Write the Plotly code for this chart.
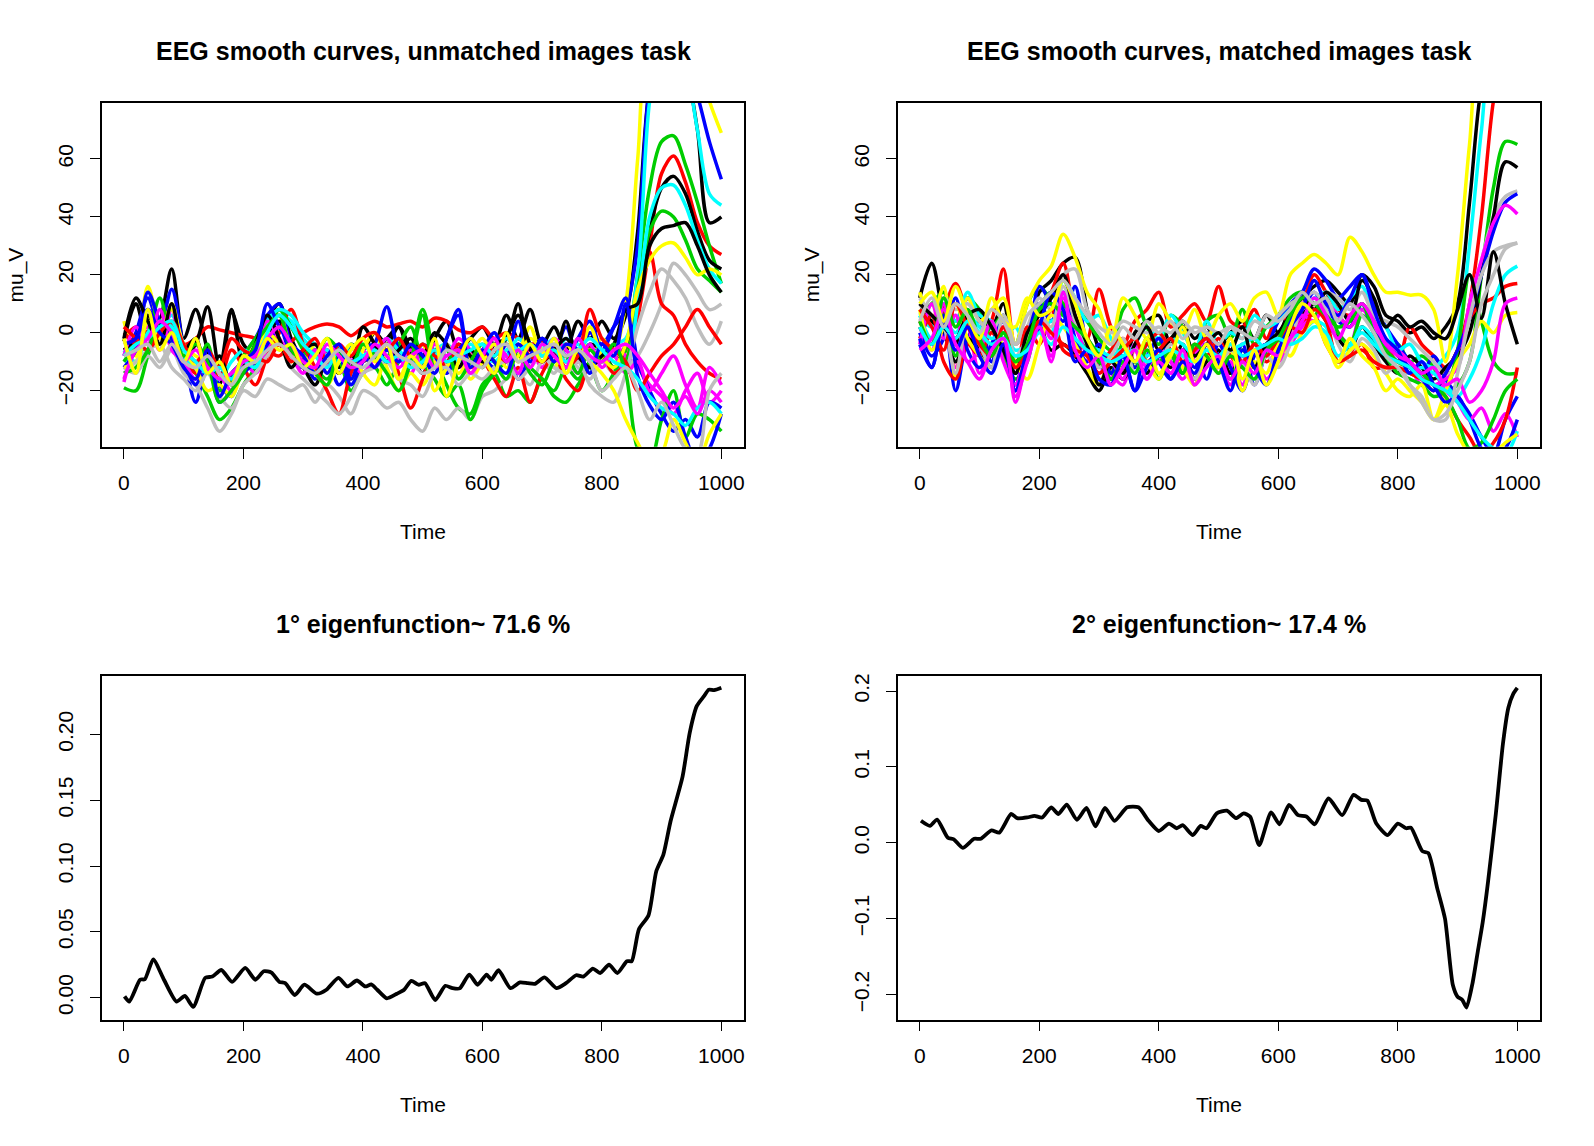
import plotly.graph_objects as go

# ---------------- data ----------------
time_grid = [0, 20, 40, 60, 80, 100, 120, 140, 160, 180, 200, 220, 240, 260, 280,
             300, 320, 340, 360, 380, 400, 420, 440, 460, 480, 500, 520, 540, 560, 580,
             600, 620, 640, 660, 680, 700, 720, 740, 760, 780, 800, 820, 840, 860, 880,
             900, 920, 940, 960, 980, 1000]

curve_colors = ["black", "red", "#00CD00", "blue", "cyan", "magenta", "yellow", "#BEBEBE"]

# unmatched images task (top-left)
unmatched_01 = [-3, 10, -2, 4, 22, -2, 8, -6, -18, 7, -4, -8, 4, 10, -2, -10, -14, -6, -12, -4, -6, 0, -4, 2, -8, -10, -2, 4, -6, -2, 2, -4, 6, -2, 8, -4, 2, -6, 4, -2, 4, -2, 6, 35, 85, 100, 100, 92, 70, 38, 40]
unmatched_02 = [-2, 2, 0, -2, 3, -4, -2, 2, 1, 0, -1, -2, -6, -8, -3, 0, 2, 3, 2, -1, 2, 4, 2, 3, 4, 2, 5, 4, 1, 0, 2, -2, 0, -2, -4, -3, -5, -4, -6, -5, -6, -8, -10, 5, 30, 55, 61, 52, 38, 30, 27]
unmatched_03 = [-19, -20, -8, 2, -4, -10, -14, -22, -30, -26, -18, -12, -2, 8, 2, -6, -12, -16, -10, -20, -14, -12, -18, -10, -6, 8, -8, -18, -26, -28, -18, -14, -22, -20, -24, -16, -22, -24, -18, -12, -20, -14, -6, 20, 50, 66, 68, 58, 45, 30, 17]
unmatched_04 = [-8, 0, 12, 2, 15, -6, -24, -12, -18, -22, -8, -2, 6, 10, -4, -8, -16, -10, -18, -12, -6, -4, -10, -2, -8, -4, -12, -2, 8, -10, -6, 0, -8, 4, -10, -2, -6, 2, -8, 0, -4, 2, 8, 30, 85, 100, 100, 95, 82, 66, 53]
unmatched_05 = [-10, -6, 4, 2, 6, -4, -10, -8, -14, -18, -12, -8, 2, 6, 4, -2, -6, -8, -10, -6, -4, -8, -6, -4, -8, -10, -6, -4, -8, -10, -6, -4, -8, -2, -6, -4, -8, -2, -6, -4, -6, -4, -2, 20, 80, 100, 100, 92, 70, 48, 44]
unmatched_06 = [-17, -4, 2, -6, 8, -8, -4, -12, -20, -16, -10, -14, -6, 2, -4, -8, -12, -6, -14, -10, -6, -12, -2, -8, -14, -6, -10, -4, -12, -8, -6, -14, -4, -10, -6, -12, -4, -8, -14, -6, -10, -4, -8, -12, -18, -22, -28, -20, -14, -24, -20]
unmatched_07 = [4, -8, 16, 4, 8, -4, -8, -10, -22, -14, -10, -4, 2, 6, -6, -12, -4, -14, -8, -16, -6, 0, -12, -20, -14, -18, -10, -4, -14, -8, -2, -8, -4, -6, 2, -8, -4, -10, -2, -6, -2, -6, 10, 60, 100, 100, 100, 100, 95, 80, 69]
unmatched_08 = [-12, -14, -8, -12, -6, -14, -18, -26, -34, -28, -20, -22, -16, -18, -20, -18, -24, -18, -22, -28, -20, -22, -26, -24, -30, -34, -26, -30, -26, -30, -22, -20, -16, -14, -18, -10, -14, -8, -12, -16, -10, -14, -12, -8, 0, 10, 24, 20, 14, 8, 10]
unmatched_09 = [-6, -2, 6, -4, 0, -8, -4, 9, -12, 8, -10, -6, 0, 4, -8, -12, -18, -10, -14, -8, -10, -6, -2, 2, -6, -14, -6, -10, -4, -8, -12, -4, -2, 10, -6, -2, -8, 4, -10, -4, -6, -12, -4, 10, 35, 50, 54, 48, 35, 25, 22]
unmatched_10 = [0, -4, -6, 2, -2, -8, -14, -10, -16, -6, -12, -18, -8, 0, 8, -4, -12, -20, -28, -14, -8, -12, -4, -14, -26, -16, -6, -12, -4, -14, -10, -16, -22, -12, -24, -14, -8, -16, -20, -10, -8, -14, -10, 10, 28, 10, 6, -4, -10, -14, -16]
unmatched_11 = [-10, -4, 0, 12, -2, -6, -12, -4, -20, -16, -8, -2, 4, 8, 2, -4, -8, -2, -6, -12, -10, -6, -8, -4, 2, -10, -16, -22, -18, -30, -20, -14, -10, -8, -12, -16, -20, -12, -16, -10, -8, -12, -10, 15, 35, 42, 40, 32, 22, 18, 14]
unmatched_12 = [-12, -6, 14, 4, -2, -10, -18, -8, -24, -20, -14, -10, -4, 2, -8, -12, -6, -14, -8, -18, -10, -4, 9, -6, -10, -4, -8, -14, -6, -2, -8, -12, -4, -16, -8, -2, -6, -10, -2, 4, -6, 2, 12, -10, -20, -28, -34, -30, -36, -24, -26]
unmatched_13 = [-6, -10, 0, 4, 2, -8, -12, -14, -16, -10, -6, -8, 4, 8, 6, 0, -4, -6, -10, -4, -8, -6, -2, -6, -10, -12, -8, -6, -10, -4, -8, -10, -6, -4, -8, -6, -2, -8, -4, -10, -6, -8, -12, 10, 40, 50, 51, 44, 32, 22, 17]
unmatched_14 = [-8, 2, -4, 8, -6, -10, -16, -8, -14, -20, -12, -6, 4, -2, -8, -14, -6, -12, -4, -10, -14, -8, -2, -10, -6, -12, -4, -8, -2, -6, -10, -4, -8, -14, -4, -8, -2, -6, -10, -4, -12, -8, -14, -10, -20, -14, -8, -18, -26, -12, -18]
unmatched_15 = [-12, -10, 4, -2, 10, -6, -12, -20, -18, -22, -12, -6, 0, -4, -10, -8, -14, -18, -10, -4, -14, -18, -8, -16, -10, -4, -20, -12, -6, -16, -10, -4, -12, -8, -2, -6, -12, -4, -8, 2, -8, -12, -4, 15, 25, 30, 31, 26, 20, 22, 20]
unmatched_16 = [-14, -10, -6, -4, -12, -16, -20, -14, -22, -26, -18, -14, -8, -4, -12, -16, -20, -24, -28, -22, -14, -12, -10, -16, -18, -22, -14, -12, -18, -14, -16, -12, -10, -16, -12, -8, -12, -14, -10, -18, -22, -24, -14, 2, 14, 22, 18, 12, 2, -4, 4]
unmatched_17 = [-2, 12, 4, -4, 10, -6, -2, -14, -8, -18, -12, -4, 6, -2, -12, -6, -4, -10, -6, -12, 2, -4, -10, -6, -2, -8, 0, -4, -12, -6, -10, -8, -2, 6, -4, -10, -6, -2, -8, -12, -8, -4, 8, 10, 30, 36, 37, 38, 30, 20, 14]
unmatched_18 = [2, -2, -6, 0, 4, -4, -10, -6, -12, -2, -6, -8, -10, -4, -10, -6, -2, -10, -4, -8, -2, 0, -6, -2, -8, -4, -8, -10, -6, -12, -8, -6, -10, -4, -8, -10, -6, -12, -8, 8, -2, -6, -10, -20, -14, -8, -4, 2, 8, 2, -4]
unmatched_19 = [-14, -12, -6, 4, 0, -8, -4, -10, -24, -20, -14, -4, 2, 6, -6, -10, -14, -18, -6, -12, -4, -8, -14, -20, -10, 6, -12, -6, -16, -10, -4, -10, -16, -6, -14, -18, -10, -8, -14, -6, -10, -4, -14, -40, -45, -30, -20, -36, -28, -30, -34]
unmatched_20 = [-4, -2, 8, 0, -4, -12, -16, -6, -22, -14, -10, -6, 10, 2, -4, -8, -14, -8, -4, -16, -8, -12, -6, -10, -4, -8, -14, -2, 6, -12, -6, -10, -14, -4, -8, -2, -10, -4, -6, -14, -4, -8, 10, -15, -25, -30, -24, -36, -45, -40, -28]
unmatched_21 = [-8, -4, -2, 2, 4, -6, -10, -14, -12, -16, -10, -12, 0, 6, 2, -4, -8, -12, -6, -10, -8, -6, -10, -8, -12, -10, -6, -10, -8, -6, -4, -8, -2, -6, -4, -8, -6, -10, -6, -2, -6, -10, -12, -16, -22, -26, -28, -32, -26, -24, -28]
unmatched_22 = [-16, -6, -2, 4, 0, -10, -6, -12, -16, -14, -10, -8, -2, 2, -4, -10, -12, -4, -8, -12, -10, -4, -8, -12, -8, -6, -12, -8, -6, -14, -8, -2, -10, -6, -12, -4, -8, -12, -2, -8, -10, -6, -4, -8, -14, -20, -26, -22, -28, -20, -24]
unmatched_23 = [-2, -14, 8, -6, 0, -10, -2, -14, -10, -18, -8, -10, -2, -6, -4, -12, -8, -2, -14, -6, -2, -10, -4, -16, -8, -12, -2, -22, -10, -2, -8, -14, 0, -10, -4, -10, -2, -14, -6, -10, -14, -20, -30, -38, -45, -42, -30, -38, -45, -35, -28]
unmatched_24 = [-8, -6, -4, -10, -4, -10, -12, -8, -14, -18, -12, -10, -6, -4, -8, -12, -14, -10, -6, -10, -12, -8, -4, -8, -10, -14, -12, -6, -8, -10, -12, -6, -4, -10, -8, -6, -4, -8, -6, -10, -20, -16, -12, -20, -30, -24, -32, -40, -42, -20, -14]

# matched images task (top-right)
matched_01 = [12, 24, 6, -4, 12, 6, 2, 10, -10, -2, 14, 18, 24, 26, 8, -6, -16, -12, 0, 4, 6, -4, 4, -2, 2, -4, 0, 4, -2, 6, 0, 8, 12, 16, 18, 14, 10, 20, 16, 6, 4, 0, 2, -2, 2, 10, 45, 85, 100, 100, 100]
matched_02 = [4, -2, 8, 17, 6, -2, 4, 22, -4, 2, 8, 14, 24, 6, -2, 15, 2, -4, 4, 8, 14, 2, 6, 10, 4, 16, 4, 2, 8, -2, 6, 4, 10, 20, 14, 8, 6, 10, 4, -4, -10, 2, -4, -8, -12, -6, 10, 40, 80, 100, 100]
matched_03 = [6, 10, 14, 4, 12, 8, 2, 6, -4, 10, 16, 12, 18, 10, 4, -2, -6, 8, 12, 2, -4, 6, 2, -8, 4, 6, -2, 8, -4, 2, 6, 12, 14, 8, 10, 6, 2, 8, 4, -6, -4, -10, -8, -12, -20, -18, -10, 20, 50, 66, 65]
matched_04 = [-4, -12, 6, -20, -2, 4, -10, 6, -20, -8, 16, 10, 4, 16, -4, -10, -18, -8, -20, -4, -10, -16, -6, -12, 0, -8, -14, -4, -18, -6, 4, 10, 14, 22, 18, 12, 16, 20, 10, 2, -4, -10, -14, -8, -16, -22, -28, -36, -42, -30, -22]
matched_05 = [6, 2, 10, 4, 14, 6, 4, -2, 2, -6, 4, 0, 18, 12, 4, 6, -2, -8, -4, 2, -2, 6, 0, -6, 4, -4, 0, -2, 6, 2, 4, 8, 10, 12, 14, 8, 12, 16, 6, 2, -6, -4, -10, -12, -8, 0, 30, 70, 100, 100, 100]
matched_06 = [2, -6, 10, -12, 2, -14, -4, 2, -24, -8, 4, -10, 12, -4, -10, -6, -14, -18, -6, -16, -8, -14, -10, -18, -4, -14, -10, -18, -6, -16, -10, -4, 2, 10, 6, 0, -4, 8, 2, -6, -10, -12, -18, -14, -20, -24, -30, -26, -34, -28, -36]
matched_07 = [14, 4, 16, -16, 12, 4, 8, 12, -4, 10, 18, 23, 34, 26, 14, 8, -4, 12, 6, -2, 10, 4, 0, 8, -2, 6, 10, 4, 12, 14, 6, 20, 24, 27, 24, 20, 33, 28, 20, 14, 14, 13, 13, 8, -10, 20, 65, 100, 100, 100, 100]
matched_08 = [10, 4, 12, 8, 10, 4, 0, 6, -4, 2, 12, 8, 20, 22, 8, 2, 0, 4, 2, 0, 2, 0, 4, 0, 2, 0, 2, -2, 4, 2, 6, 10, 12, 10, 14, 12, 8, 14, 6, 4, 2, -2, -6, -10, -14, -12, 10, 25, 40, 47, 49]
matched_09 = [8, 4, 0, -10, -2, -6, -12, -4, -14, -6, 2, -6, -4, -8, -14, -20, -12, -16, -10, -14, -8, -12, -4, -16, -10, -6, -14, -8, -12, -4, -8, 0, 6, 10, 4, -2, -6, 2, -4, -10, -14, -8, -12, -16, -12, -8, 0, 20, 40, 59, 57]
matched_10 = [-2, 6, -10, -16, -4, -8, 0, -6, -12, 2, -4, 8, -6, -8, -2, -12, -6, -2, -10, -4, 0, -6, -10, -4, -8, -2, -8, -12, -4, -10, -6, -2, 4, 6, -4, -10, -8, -4, -12, -12, -12, -14, -16, -20, -14, -6, 5, 10, 12, 16, 17]
matched_11 = [2, -4, 8, -8, 4, -4, 2, -8, -16, -10, 8, 14, 10, 4, -6, -10, -14, -4, -12, -2, -16, -8, -14, -6, -2, -10, -16, -6, -12, -8, -4, 4, 10, 6, 12, 0, -4, 6, 0, -8, -14, -16, -18, -22, -20, -6, 20, 4, -10, -14, -14]
matched_12 = [0, -8, -2, 12, -6, -12, -4, 4, -18, -2, 10, 4, 14, -2, -10, -4, -14, -6, -12, -8, -2, -10, -14, -6, -16, -4, -12, -20, -8, -4, -8, 4, 8, 14, 8, 4, 2, 10, 0, -4, -8, -12, -16, -20, -14, -6, 5, 20, 35, 45, 48]
matched_13 = [6, -2, 4, 0, 6, 2, -2, 0, -6, -4, 2, 4, 6, 2, -4, -6, -8, -6, -10, -8, -6, -2, -4, -8, -6, -8, -6, -4, -2, -6, -4, -2, 0, 4, 2, -10, -6, 2, -2, -8, -12, -14, -12, -14, -18, -22, -16, -6, 10, 20, 23]
matched_14 = [-4, 10, -2, 6, -10, -6, 4, -10, -18, -4, 6, -2, 8, 2, -8, -14, -10, -16, -4, -12, -6, -10, -16, -8, -2, -10, -18, -8, -12, -4, -10, -2, 6, 4, 10, 6, 2, 8, 4, -4, -6, -10, -14, -18, -16, -12, 10, 25, 38, 44, 41]
matched_15 = [8, -6, 2, 10, -2, -8, -12, -2, -10, -16, -4, 6, 2, -4, -12, -18, -8, -14, -6, -10, -16, -6, -12, -18, -8, -14, -6, -20, -10, -14, -4, -8, 0, 4, -2, -12, -6, -4, -8, -14, -20, -22, -18, -30, -20, -10, -4, 4, 0, 6, 7]
matched_16 = [12, 6, 2, -14, 4, -4, -12, 6, -8, -2, 6, 2, 16, 4, -4, -12, -8, -2, -14, -6, -10, -4, -8, -16, -4, -12, -6, -10, -18, -8, -12, -4, 10, 14, 8, -4, -10, -2, -6, -14, -10, -18, -22, -30, -30, -14, 5, 20, 28, 30, 31]
matched_17 = [10, 6, 2, -2, 6, 8, 2, -6, -14, 0, 6, 12, 20, 6, -4, -18, -10, -14, -4, 2, -6, -2, 2, -8, -4, 0, -6, 2, -12, -4, 0, 6, 12, 8, 14, 10, 4, 18, 12, 2, 6, 2, 4, 0, -2, 8, 20, 5, 28, 10, -4]
matched_18 = [8, 2, -6, 10, 2, -4, -8, 2, -12, -6, 4, 0, -4, -6, -8, -14, -10, -6, -2, -10, -6, -2, -10, -6, -2, -8, -4, -10, -4, -8, -2, 2, 0, 8, 4, -10, -8, -6, -10, -12, -12, -14, -16, -18, -22, -30, -36, -42, -38, -30, -12]
matched_19 = [4, -4, 12, 2, 8, -2, -8, 0, -10, -4, 8, 10, 6, 2, -2, -8, -16, -10, -14, -6, -10, -6, -14, -4, -8, -14, -8, -12, -16, -6, -2, 6, 12, 10, 6, 2, 4, 10, 0, -6, -10, -12, -14, -18, -22, -30, -40, -38, -30, -20, -16]
matched_20 = [-2, -12, 4, -6, 2, -8, -14, -4, -20, -6, 2, 14, 8, -10, -6, -16, -18, -8, -20, -12, -6, -16, -10, -14, -4, -10, -20, -6, -12, -18, -6, 2, 8, 18, 10, 6, 12, 20, 8, -2, -6, -14, -10, -18, -24, -22, -30, -40, -44, -40, -30]
matched_21 = [2, -4, 2, -2, 4, 0, -4, -2, -8, -6, 0, -4, 2, -2, -6, -8, -10, -8, -6, -10, -8, -6, -8, -10, -6, -8, -4, -8, -6, -4, -2, -4, -2, 2, 0, -8, -4, 0, -4, -8, -10, -12, -16, -18, -20, -24, -30, -36, -40, -42, -34]
matched_22 = [-6, -2, 8, -4, -10, -16, -6, -2, -22, -10, 2, -8, 14, -6, -12, -8, -18, -12, -6, -16, -10, -14, -6, -18, -12, -8, -16, -10, -14, -6, -8, -2, 4, 12, 6, -2, 6, 10, 4, -4, -8, -10, -14, -12, -18, -16, -24, -20, -10, 10, 12]
matched_23 = [10, 14, 4, 16, 6, -2, 12, 4, 2, 12, 6, 8, 18, 10, -2, -8, 2, -4, -10, -2, -14, -8, 2, -10, -4, -12, -2, -16, -6, -18, -10, 2, 10, 6, -4, -10, -2, -8, -12, -20, -16, -20, -24, -30, -25, -35, -42, -45, -42, -38, -35]
matched_24 = [4, 12, 2, 10, 6, 0, 8, 4, -4, 6, 10, 14, 18, 12, 6, 0, -4, 2, -2, 4, 0, 4, -2, 2, 0, -4, 2, 0, -2, 6, 4, 8, 14, 10, 12, 4, 10, 6, 0, -8, -12, -18, -24, -30, -28, -20, -10, 10, 20, 29, 31]

# eigenfunctions (bottom)
eigen1_time = [1, 9, 27, 35, 49, 67, 88, 102, 116, 136, 148, 163, 181, 203, 220, 234, 247, 260, 270, 286,
               302, 323, 339, 359, 374, 390, 404, 414, 424, 440, 457, 469, 481, 493, 504, 521, 538, 550, 562, 578,
               592, 607, 615, 627, 647, 663, 676, 688, 704, 724, 740, 757, 769, 785, 797, 812, 826, 842, 850, 862,
               878, 891, 903, 915, 935, 947, 959, 971, 979, 988, 1000]
eigen1_value = [0.001, -0.003, 0.0136, 0.014, 0.029, 0.0136, -0.003, 0.0013, -0.007, 0.015, 0.016, 0.021, 0.012, 0.0226, 0.0136, 0.020, 0.019, 0.012, 0.011, 0.002,
                0.0098, 0.003, 0.006, 0.015, 0.0085, 0.013, 0.0085, 0.010, 0.006, -0.0005, 0.003, 0.006, 0.0128, 0.0098, 0.011, -0.0018, 0.009, 0.0072, 0.007, 0.0175,
                0.0098, 0.0175, 0.0136, 0.0208, 0.0072, 0.0116, 0.011, 0.0105, 0.0154, 0.0072, 0.011, 0.017, 0.016, 0.022, 0.0187, 0.025, 0.0187, 0.0277, 0.0277, 0.052,
                0.0624, 0.0958, 0.1086, 0.134, 0.1677, 0.201, 0.2216, 0.229, 0.234, 0.2336, 0.2354]
eigen2_time = [2, 17, 29, 47, 57, 72, 91, 102, 120, 133, 153, 163, 180, 192, 205, 220, 232, 246, 263, 279,
               294, 310, 326, 347, 366, 383, 400, 417, 430, 440, 457, 470, 480, 497, 514, 529, 542, 553, 568, 588,
               602, 618, 633, 647, 661, 684, 707, 726, 739, 749, 764, 783, 800, 814, 822, 841, 851, 866, 879, 892,
               900, 908, 915, 925, 934, 942, 951, 964, 976, 985, 993, 1000]
eigen2_value = [0.029, 0.0223, 0.0307, 0.0067, 0.0045, -0.0067, 0.0053, 0.0053, 0.0165, 0.0134, 0.038, 0.0325, 0.0334, 0.0356, 0.0334, 0.0468, 0.038, 0.0503, 0.0303, 0.0459,
                0.0218, 0.0459, 0.029, 0.0468, 0.0468, 0.029, 0.0156, 0.0254, 0.0192, 0.0232, 0.0102, 0.0223, 0.0192, 0.0388, 0.0423, 0.0325, 0.0388, 0.0343, -0.003, 0.040,
                0.0245, 0.0499, 0.0365, 0.0347, 0.0245, 0.0584, 0.0365, 0.0633, 0.0566, 0.0557, 0.0254, 0.0102, 0.0254, 0.0192, 0.020, -0.011, -0.0134, -0.060, -0.100, -0.187,
                -0.2027, -0.207, -0.217, -0.185, -0.1425, -0.105, -0.0512, 0.038, 0.131, 0.178, 0.196, 0.204]

panel_titles = ["EEG smooth curves, unmatched images task", "EEG smooth curves, matched images task",
                "1° eigenfunction~ 71.6 %", "2° eigenfunction~ 17.4 %"]
x_tick_values = [0, 200, 400, 600, 800, 1000]
top_y_ticks = [-20, 0, 20, 40, 60]
eig1_y_ticks = [0.00, 0.05, 0.10, 0.15, 0.20]
eig2_y_ticks = [-0.2, -0.1, 0.0, 0.1, 0.2]

unmatched_curves = [unmatched_01, unmatched_02, unmatched_03, unmatched_04, unmatched_05, unmatched_06,
                    unmatched_07, unmatched_08, unmatched_09, unmatched_10, unmatched_11, unmatched_12,
                    unmatched_13, unmatched_14, unmatched_15, unmatched_16, unmatched_17, unmatched_18,
                    unmatched_19, unmatched_20, unmatched_21, unmatched_22, unmatched_23, unmatched_24]
matched_curves = [matched_01, matched_02, matched_03, matched_04, matched_05, matched_06,
                  matched_07, matched_08, matched_09, matched_10, matched_11, matched_12,
                  matched_13, matched_14, matched_15, matched_16, matched_17, matched_18,
                  matched_19, matched_20, matched_21, matched_22, matched_23, matched_24]

# ---------------- layout geometry (pixels) ----------------
W, H = 1594, 1146
FONT = "Liberation Sans, Arial, Helvetica, sans-serif"
left_box = (102.2, 744.5)
right_box = (898.5, 1541.0)
top_box = (101.0, 445.6)
bottom_box = (674.7, 1019.4)


def xdom(box):
    return [box[0] / W, box[1] / W]


def ydom(box):
    return [1 - box[1] / H, 1 - box[0] / H]


fig = go.Figure()

for i, c in enumerate(unmatched_curves):
    fig.add_trace(go.Scatter(x=time_grid, y=c, mode="lines", xaxis="x", yaxis="y",
                             line=dict(color=curve_colors[i % 8], width=3.5, shape="spline", smoothing=0.9),
                             showlegend=False, hoverinfo="skip"))
for i, c in enumerate(matched_curves):
    fig.add_trace(go.Scatter(x=time_grid, y=c, mode="lines", xaxis="x2", yaxis="y2",
                             line=dict(color=curve_colors[i % 8], width=3.5, shape="spline", smoothing=0.9),
                             showlegend=False, hoverinfo="skip"))
fig.add_trace(go.Scatter(x=eigen1_time, y=eigen1_value, mode="lines", xaxis="x3", yaxis="y3",
                         line=dict(color="black", width=3.8, shape="spline", smoothing=0.6),
                         showlegend=False, hoverinfo="skip"))
fig.add_trace(go.Scatter(x=eigen2_time, y=eigen2_value, mode="lines", xaxis="x4", yaxis="y4",
                         line=dict(color="black", width=3.8, shape="spline", smoothing=0.6),
                         showlegend=False, hoverinfo="skip"))

x_range = [-36.5, 1038]
common_x = dict(range=x_range, tickvals=x_tick_values, ticks="outside", ticklen=10, tickwidth=1.3,
                tickcolor="black", showline=True, mirror=True, linecolor="black", linewidth=1.5,
                showgrid=False, zeroline=False, tickfont=dict(family=FONT, size=21, color="black"),
                ticklabelstandoff=6, fixedrange=True)
common_y = dict(ticks="outside", ticklen=10, tickwidth=1.3, tickcolor="black", showline=True, mirror=True,
                linecolor="black", linewidth=1.5, showgrid=False, zeroline=False, tickangle=-90,
                tickfont=dict(family=FONT, size=21, color="black"), ticklabelstandoff=9, fixedrange=True)

fig.update_layout(
    width=W, height=H, margin=dict(l=0, r=0, t=0, b=0),
    paper_bgcolor="white", plot_bgcolor="white", hovermode=False,
    xaxis=dict(domain=xdom(left_box), anchor="y", **common_x),
    yaxis=dict(domain=ydom(top_box), anchor="x", range=[-39.4, 79.4], tickvals=top_y_ticks, **common_y),
    xaxis2=dict(domain=xdom(right_box), anchor="y2", **common_x),
    yaxis2=dict(domain=ydom(top_box), anchor="x2", range=[-39.4, 79.4], tickvals=top_y_ticks, **common_y),
    xaxis3=dict(domain=xdom(left_box), anchor="y3", **common_x),
    yaxis3=dict(domain=ydom(bottom_box), anchor="x3", range=[-0.0167, 0.2447], tickvals=eig1_y_ticks,
                tickformat=".2f", **common_y),
    xaxis4=dict(domain=xdom(right_box), anchor="y4", **common_x),
    yaxis4=dict(domain=ydom(bottom_box), anchor="x4", range=[-0.2329, 0.2204], tickvals=eig2_y_ticks,
                tickformat=".1f", **common_y),
)

annotations = []
boxes = [(left_box, top_box), (right_box, top_box), (left_box, bottom_box), (right_box, bottom_box)]
for title, (bx, by) in zip(panel_titles, boxes):
    cx = (bx[0] + bx[1]) / 2 / W
    annotations.append(dict(text=title, x=cx, y=1 - (by[0] - 52.0) / H, xref="paper", yref="paper",
                            xanchor="center", yanchor="middle", showarrow=False,
                            font=dict(family=FONT, size=25, color="black", weight="bold")))
    annotations.append(dict(text="Time", x=cx, y=1 - (by[1] + 85.0) / H, xref="paper", yref="paper",
                            xanchor="center", yanchor="middle", showarrow=False,
                            font=dict(family=FONT, size=21, color="black")))
for bx in (left_box, right_box):
    annotations.append(dict(text="mu_V", x=(bx[0] - 86.5) / W, y=1 - (top_box[0] + top_box[1]) / 2 / H,
                            xref="paper", yref="paper", xanchor="center", yanchor="middle",
                            textangle=-90, showarrow=False,
                            font=dict(family=FONT, size=21, color="black")))
fig.update_layout(annotations=annotations)

fig.write_html("out.html")
